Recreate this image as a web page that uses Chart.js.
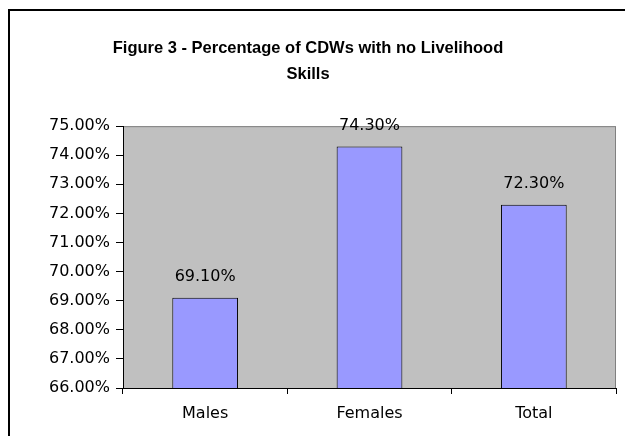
<!DOCTYPE html>
<html>
<head>
<meta charset="utf-8">
<script src="https://cdn.jsdelivr.net/npm/chart.js@4"></script>
<style>
  html, body { margin: 0; background: #fff; overflow: hidden; }
  canvas { display: block; }
</style>
</head>
<body>
<canvas id="barChart" width="625" height="436"></canvas>
<script>
// Figure 3 data
const categories = ['Males', 'Females', 'Total'];
const percentages = [69.1, 74.3, 72.3];
const yMin = 66;
const yMax = 75;

const TITLE_FONT = 'Liberation Sans, Arial, sans-serif';
const FONT = 'DejaVu Sans, sans-serif';

// grey plot area and the chart frame like the old Excel chart
const plotBackground = {
    id: 'plotBackground',
    beforeDraw(chart) {
        const { ctx, chartArea: a } = chart;
        ctx.save();
        ctx.strokeStyle = '#000';
        ctx.lineWidth = 2;
        ctx.beginPath();
        ctx.moveTo(9, chart.height + 5);
        ctx.lineTo(9, 10);
        ctx.lineTo(chart.width + 5, 10);
        ctx.stroke();
        ctx.fillStyle = '#c0c0c0';
        ctx.fillRect(a.left, a.top, a.right - a.left, a.bottom - a.top);
        ctx.strokeStyle = '#808080';
        ctx.lineWidth = 1;
        ctx.strokeRect(a.left + 0.5, a.top + 0.5, a.right - a.left - 1, a.bottom - a.top);
        ctx.restore();
    },
};

// value labels above the bars
const valueLabels = {
    id: 'valueLabels',
    afterDatasetsDraw(chart) {
        const { ctx } = chart;
        const meta = chart.getDatasetMeta(0);
        ctx.save();
        ctx.font = '16px ' + FONT;
        ctx.fillStyle = '#000';
        ctx.textAlign = 'center';
        ctx.textBaseline = 'bottom';
        meta.data.forEach((bar, i) => {
            ctx.fillText(percentages[i].toFixed(2) + '%', bar.x, bar.y - 13);
        });
        ctx.restore();
    },
};

const ctxBar = document.getElementById('barChart').getContext('2d');
const barChart = new Chart(ctxBar, {
    type: 'bar',
    data: {
        labels: categories,
        datasets: [
            {
                data: percentages,
                backgroundColor: '#9999ff',
                borderColor: '#000',
                borderWidth: 1,
                barPercentage: 0.4,
                categoryPercentage: 1,
            },
        ],
    },
    options: {
        responsive: false,
        animation: false,
        layout: { padding: { left: 0, right: 9, top: 0, bottom: 0 } },
        plugins: {
            legend: { display: false },
            tooltip: { enabled: false },
            title: {
                display: true,
                text: ['Figure 3 - Percentage of CDWs with no Livelihood', 'Skills'],
                color: '#000',
                font: { family: TITLE_FONT, size: 16.5, weight: 'bold', lineHeight: 1.55 },
                padding: { top: 36, bottom: 39 },
            },
        },
        scales: {
            x: {
                grid: { drawOnChartArea: false, color: '#000', tickLength: 6, offset: true },
                border: { color: '#000' },
                ticks: { color: '#000', font: { family: FONT, size: 16 }, padding: 10 },
                afterFit(scale) { scale.height = 48; },
            },
            y: {
                min: yMin,
                max: yMax,
                grid: { drawOnChartArea: false, color: '#000', tickLength: 7 },
                border: { color: '#000' },
                ticks: {
                    stepSize: 1,
                    color: '#000',
                    padding: 6,
                    font: { family: FONT, size: 16 },
                    callback: (v) => v.toFixed(2) + '%',
                },
                afterFit(scale) { scale.width = 123; },
            },
        },
    },
    plugins: [plotBackground, valueLabels],
});
</script>
</body>
</html>
